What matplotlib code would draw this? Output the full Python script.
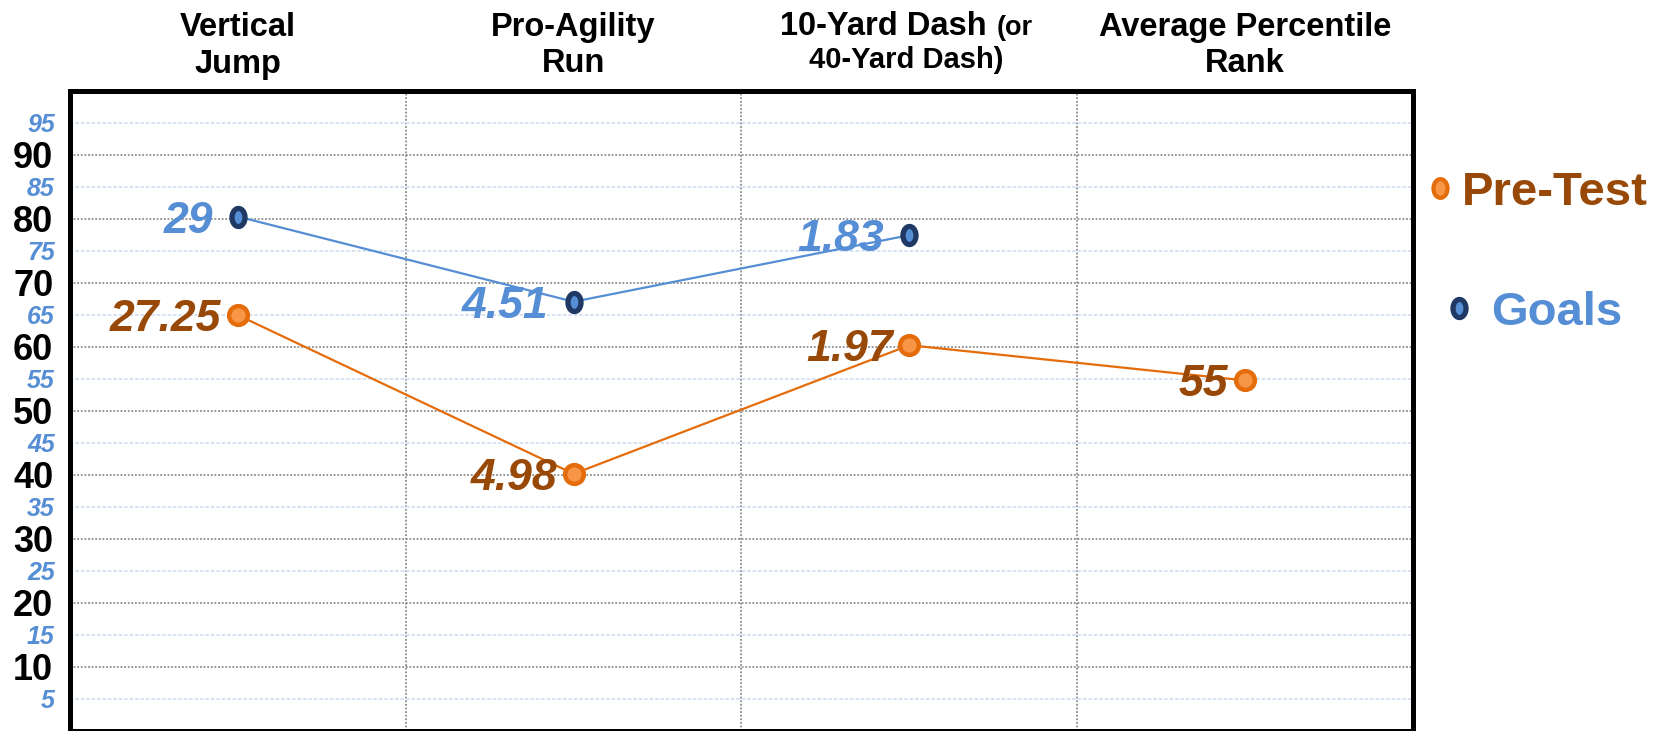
import numpy as np
import matplotlib
matplotlib.use('Agg')
import matplotlib.pyplot as plt
from matplotlib.path import Path
from matplotlib.lines import Line2D
import matplotlib.transforms as mtransforms

# ---------------- data ----------------
title_line1 = ['Vertical', 'Pro-Agility', '10-Yard Dash', 'Average Percentile']
title_note = ['', '', '(or', '']
title_line2 = ['Jump', 'Run', '40-Yard Dash)', 'Rank']
pretest_values = [64.9, 40.1, 60.2, 54.7]
goal_values = [80.3, 67.0, 77.4, np.nan]
pretest_labels = ['27.25', '4.98', '1.97', '55']
goal_labels = ['29', '4.51', '1.83', '']
major_ticks = [10, 20, 30, 40, 50, 60, 70, 80, 90]
minor_ticks = [5, 15, 25, 35, 45, 55, 65, 75, 85, 95]
series_names = ['Pre-Test', 'Goals']

plt.rcParams['font.family'] = ['Liberation Sans', 'DejaVu Sans']

W, H = 1656, 731
fig = plt.figure(figsize=(W / 100, H / 100), dpi=100)
ax = fig.add_axes([70 / W, 0.5 / H, (1413 - 70) / W, (730.5 - 90.5) / H])

ax.set_xlim(-0.5, 3.5)
ax.set_ylim(0, 100)

for s in ax.spines.values():
    s.set_linewidth(3.6)
    s.set_color('black')

# y ticks
ax.set_yticks(major_ticks)
ax.set_yticklabels([str(v) for v in major_ticks])
ax.set_yticks(minor_ticks, minor=True)
ax.set_yticklabels([str(v) for v in minor_ticks], minor=True)
ax.tick_params(axis='y', which='major', length=0, pad=12, labelsize=26, labelcolor='black')
ax.tick_params(axis='y', which='minor', length=0, pad=11, labelsize=18, labelcolor='#558ED5')
for lab in ax.get_yticklabels():
    lab.set_fontweight('bold')
for lab in ax.get_yticklabels(minor=True):
    lab.set_fontweight('bold')
    lab.set_fontstyle('italic')

# x ticks / gridlines at category boundaries
ax.set_xticks([])
ax.set_xticks([0.5, 1.5, 2.5], minor=True)
ax.tick_params(axis='x', which='both', length=0, labelbottom=False)

ax.yaxis.grid(True, which='major', color='#8C8C8C', linestyle=(0, (1, 1)), linewidth=1.3)
ax.yaxis.grid(True, which='minor', color='#D3E0F2', linestyle=(0, (2, 1)), linewidth=1.3)
ax.xaxis.grid(True, which='minor', color='#8C8C8C', linestyle=(0, (1, 1)), linewidth=1.3)
ax.set_axisbelow(True)

# markers
t = np.linspace(0, 2 * np.pi, 64)
def ellipse(aspect):
    return Path(np.column_stack([aspect * np.cos(t), np.sin(t)]), closed=True)

x = np.arange(len(pretest_values))
ax.plot(x, goal_values, color='#558ED5', lw=1.6, marker=ellipse(0.72), ms=13,
        mfc='#558ED5', mec='#1F3864', mew=3.8, zorder=3)
ax.plot(x, pretest_values, color='#E46C0A', lw=1.6, marker='o', ms=13.5,
        mfc='#F79646', mec='#E46C0A', mew=3.2, zorder=3)

# data labels
for xi, v, lab in zip(x, goal_values, goal_labels):
    if lab and not np.isnan(v):
        ax.annotate(lab, (xi, v), xytext=(-18, -11.5), textcoords='offset points',
                    ha='right', va='baseline', fontsize=32, fontweight='bold',
                    fontstyle='italic', color='#558ED5', zorder=4)
for xi, v, lab in zip(x, pretest_values, pretest_labels):
    ax.annotate(lab, (xi, v), xytext=(-12, -11.5), textcoords='offset points',
                ha='right', va='baseline', fontsize=32, fontweight='bold',
                fontstyle='italic', color='#984807', zorder=4)

# column titles above the axes
blend = mtransforms.blended_transform_factory(ax.transData, ax.transAxes)
fig.canvas.draw()
renderer = fig.canvas.get_renderer()
TS = 23.5
for i in range(len(title_line1)):
    if title_note[i]:
        t1 = ax.text(i, 1, title_line1[i], fontsize=TS, fontweight='bold', ha='left',
                     va='baseline', transform=blend)
        t2 = ax.text(i, 1, title_note[i], fontsize=19.5, fontweight='bold', ha='left',
                     va='baseline', transform=blend)
        w1 = t1.get_window_extent(renderer).width
        w2 = t2.get_window_extent(renderer).width
        space = 0.278 * TS / 0.72
        total = w1 + space + w2
        t1.set_transform(mtransforms.offset_copy(blend, x=-total / 2 - 3, y=55.5, units='dots'))
        t2.set_transform(mtransforms.offset_copy(blend, x=-total / 2 - 3 + w1 + space, y=55.5, units='dots'))
        ax.text(i, 1, title_line2[i], fontsize=21, fontweight='bold', ha='center',
                va='baseline',
                transform=mtransforms.offset_copy(blend, x=-3, y=22, units='dots'))
    else:
        ax.text(i, 1, title_line1[i], fontsize=TS, fontweight='bold', ha='center',
                va='baseline',
                transform=mtransforms.offset_copy(blend, y=54.5, units='dots'))
        ax.text(i, 1, title_line2[i], fontsize=TS, fontweight='bold', ha='center',
                va='baseline',
                transform=mtransforms.offset_copy(blend, y=18, units='dots'))

# legend (manual)
fig.add_artist(Line2D([1440 / W], [1 - 188 / H], transform=fig.transFigure,
                      marker=ellipse(0.75), ms=13.5, mfc='#F79646', mec='#E46C0A', mew=3))
fig.text(1462 / W, 1 - 205 / H, series_names[0], color='#984807', fontsize=34,
         fontweight='bold', va='baseline', ha='left')
fig.add_artist(Line2D([1459 / W], [1 - 308 / H], transform=fig.transFigure,
                      marker=ellipse(0.72), ms=13, mfc='#558ED5', mec='#1F3864', mew=3.8))
fig.text(1491 / W, 1 - 325 / H, series_names[1], color='#558ED5', fontsize=34,
         fontweight='bold', va='baseline', ha='left')

fig.savefig('out.png', dpi=100)
